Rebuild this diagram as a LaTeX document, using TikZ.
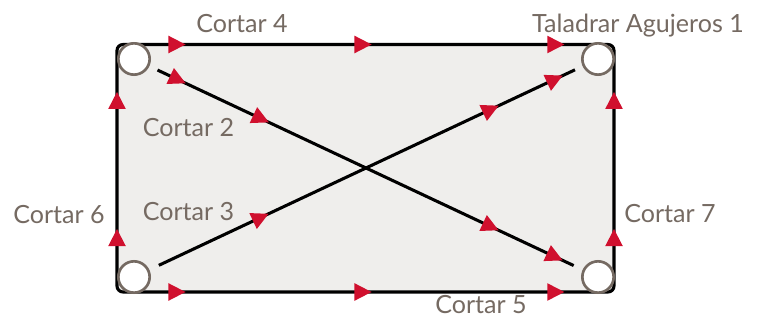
\documentclass[tikz,border=0pt]{standalone}
\usepackage{fontspec}
\setmainfont{Lato}
\usetikzlibrary{calc,decorations.markings}
\definecolor{bgfill}{RGB}{239,238,236}
\definecolor{txt}{RGB}{117,106,98}
\definecolor{arr}{RGB}{208,16,46}
\newcommand\redtri{\fill[arr] (6.4pt,0) -- (-6.4pt,6.6pt) -- (-6.4pt,-6.6pt) -- cycle;}
\tikzset{
  hole/.style={circle, draw=txt, fill=white, line width=2pt, minimum size=23.5pt, inner sep=0pt},
  lbl/.style={text=txt, font=\fontsize{18.8}{22}\selectfont, anchor=base, inner sep=0pt},
  cut/.style={draw=black, line width=2.3pt},
  tri at/.style={postaction={decorate, decoration={markings, mark=at position #1 with {\redtri}}}},
}
\begin{document}
\begin{tikzpicture}[x=0.75pt, y=-0.75pt]
\useasboundingbox (0,0) rectangle (757,320);
% corners of the plate
\coordinate (tl) at (117,44.5);
\coordinate (tr) at (614,44.5);
\coordinate (bl) at (117,292);
\coordinate (br) at (614,292);
\path[fill=bgfill, cut, rounded corners=4.5pt] (tl) rectangle (br);
% hole centres
\path (134,59) coordinate (c1p) (598,59) coordinate (c2p) (134,277) coordinate (c3p) (598,277) coordinate (c4p);
% diagonal cuts
\coordinate (a1) at ($(c1p)!19.5pt!(c4p)$);
\coordinate (a2) at ($(c4p)!20.2pt!(c1p)$);
\coordinate (b1) at ($(c3p)!20.6pt!(c2p)$);
\coordinate (b2) at ($(c2p)!19.1pt!(c3p)$);
\draw[cut, tri at=0.049, tri at=0.249, tri at=0.801, tri at=0.955] (a1) -- (a2);
\draw[cut, tri at=0.245, tri at=0.798, tri at=0.952] (b1) -- (b2);
% edge arrows
\path[tri at=0.1207, tri at=0.495, tri at=0.883] (tl) -- (tr);
\path[tri at=0.1207, tri at=0.495, tri at=0.883] (bl) -- (br);
\path[tri at=0.22, tri at=0.774] (bl) -- (tl);
\path[tri at=0.22, tri at=0.774] (br) -- (tr);
% holes
\node[hole] (c1) at (c1p) {};
\node[hole] (c2) at (c2p) {};
\node[hole] (c3) at (c3p) {};
\node[hole] (c4) at (c4p) {};
% labels
\node[lbl] (l4) at (242,33) {Cortar 4};
\node[lbl] (l1) at (638,33) {Taladrar Agujeros 1};
\node[lbl] (l6) at (59,224) {Cortar 6};
\node[lbl] (l2) at (188.5,137) {Cortar 2};
\node[lbl] (l3) at (188.5,221) {Cortar 3};
\node[lbl] (l7) at (670,223) {Cortar 7};
\node[lbl, text depth=0pt] (l5) at (481,314) {Cortar 5};
\end{tikzpicture}
\end{document}
